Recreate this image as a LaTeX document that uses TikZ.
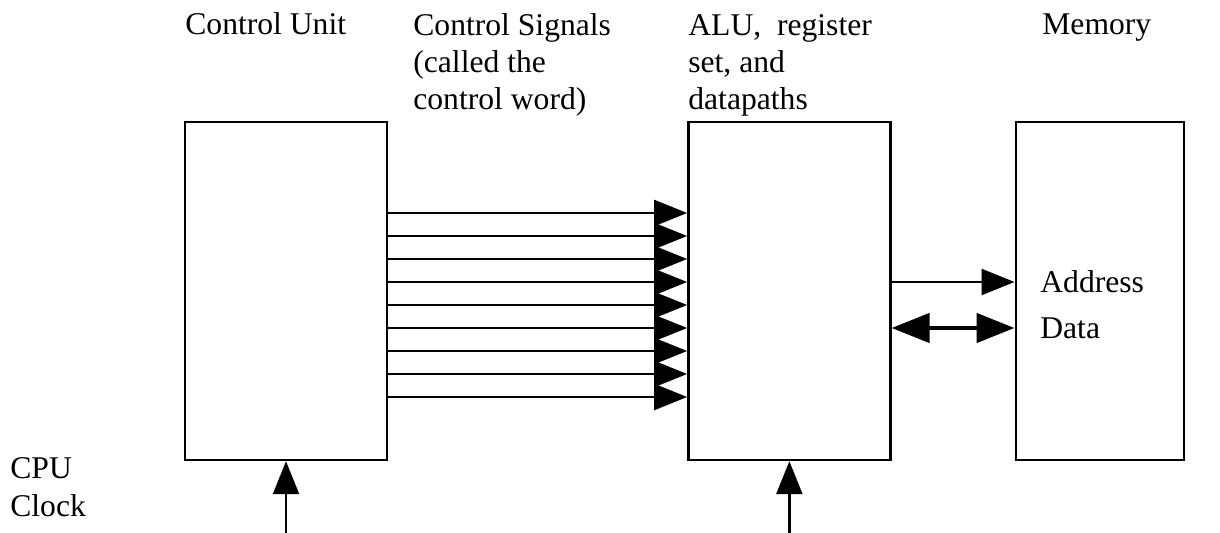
\documentclass[tikz,border=0pt]{standalone}
\usepackage{fontspec}
\setmainfont{Liberation Serif}
\usetikzlibrary{positioning,arrows.meta}
\tikzset{
 blk/.style={rectangle, draw=black, line width=1.4pt, inner sep=0pt,
 minimum width=4.04cm, minimum height=6.76cm},
 lbl/.style={align=left, inner sep=0pt, font=\fontsize{18}{21.3}\selectfont},
 fl/.style={-{Triangle[length=6.6mm,width=5.2mm]}, draw=black, line width=1.3pt},
 fld/.style={{Triangle[length=7.6mm,width=5.8mm]}-{Triangle[length=7.6mm,width=5.8mm]},
 draw=black, line width=2.6pt},
}

\begin{document}
\begin{tikzpicture}[x=0.02cm, y=-0.02cm, node distance=5.98cm]
 \useasboundingbox (0,0) rectangle (1220,533);
 % boxes
 \node[blk] (CU) at (286,291) {};
 \node[blk, right=of CU] (ALU) {};
 \node[blk, right=2.46cm of ALU, minimum width=3.36cm] (MEM) {};
 % headings (base = last line)
 \node[lbl, anchor=base west] (hCU) at (185,35) {Control Unit};
 \node[lbl, anchor=base west] (hSig) at (413,110) {Control Signals\\(called the\\control word)};
 \node[lbl, anchor=base west] (hALU) at (688,110) {ALU,~ register\\set, and\\datapaths};
 \node[lbl, anchor=base west] (hMEM) at (1042,35) {Memory};
 % memory ports
 \node[lbl, anchor=west] (addr) at (1040,282) {Address};
 \node[lbl, anchor=west] (data) at (1040,328) {Data};
 % clock
 \node[lbl, anchor=west] (clk) at (10,487) {CPU\\Clock};
 \coordinate (clkCU) at (CU.south |- 0,533);
 \coordinate (clkALU) at (ALU.south |- 0,533);

 % control word
 \foreach \y in {213,236,259,282,305,328,351,374,397}
  \draw[fl] (CU.east |- 0,\y) -- (ALU.west |- 0,\y);
 \draw[fl] (ALU.east |- addr.west) -- (MEM.west |- addr.west);
 \draw[fld] (ALU.east |- data.west) -- (MEM.west |- data.west);
 \draw[fl] (clkCU) -- (CU.south);
 \draw[fl] (clkALU) -- (ALU.south);
\end{tikzpicture}
\end{document}
